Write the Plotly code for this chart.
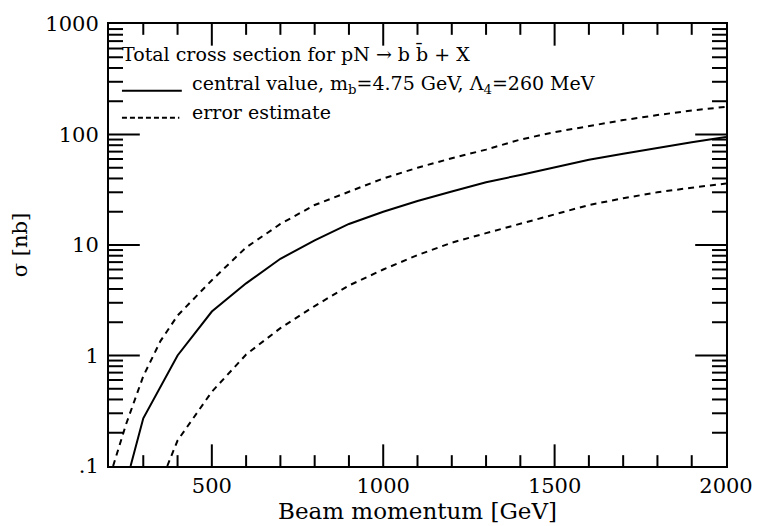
import plotly.graph_objects as go

# Beam momentum [GeV] and cross sections [nb]
central_x = [263, 300, 400, 500, 600, 700, 800, 900, 1000, 1100, 1200, 1300, 1400, 1500, 1600, 1700, 1800, 1900, 2000]
central_y = [0.1, 0.27, 1.0, 2.5, 4.5, 7.5, 11, 15.5, 20, 25, 30.5, 37, 43, 50, 59, 67, 76, 85, 95]

upper_x = [212, 250, 300, 350, 400, 500, 600, 700, 800, 900, 1000, 1100, 1200, 1300, 1400, 1500, 1600, 1700, 1800, 1900, 2000]
upper_y = [0.1, 0.24, 0.65, 1.35, 2.3, 4.8, 9.5, 15.5, 23, 30.5, 40, 50, 61, 73, 90, 105, 120, 135, 150, 165, 178]

lower_x = [370, 400, 500, 600, 700, 800, 900, 1000, 1100, 1200, 1300, 1400, 1500, 1600, 1700, 1800, 1900, 2000]
lower_y = [0.1, 0.17, 0.47, 1.02, 1.77, 2.8, 4.3, 6.0, 8.1, 10.5, 12.8, 15.5, 19, 23, 26.5, 30, 33, 36]

# axis ticks
x_major = [500, 1000, 1500, 2000]
x_minor = [300, 400, 600, 700, 800, 900, 1100, 1200, 1300, 1400, 1600, 1700, 1800, 1900]
y_major = [0.1, 1, 10, 100, 1000]
y_minor = [m * d for d in (0.1, 1, 10, 100) for m in range(2, 10)]
y_label_alias = {"0.1": ".1"}

legend_title = "Total cross section for pN \u2192 b b\u0304 + X"
label_central = "central value, m<sub>b</sub>=4.75 GeV, \u039b<sub>4</sub>=260 MeV"
label_error = "error estimate"

FONT = "DejaVu Serif"
LEG_SIZE = 19
X_RANGE = [200, 2000]
Y_RANGE = [-1, 3]
PLOT_H = 449  # plot-area height in px (for tick lengths)

fig = go.Figure()
fig.add_trace(go.Scatter(x=central_x, y=central_y, mode="lines",
                         line=dict(color="black", width=2), showlegend=False))
fig.add_trace(go.Scatter(x=upper_x, y=upper_y, mode="lines",
                         line=dict(color="black", width=2, dash="6px,5px"), showlegend=False))
fig.add_trace(go.Scatter(x=lower_x, y=lower_y, mode="lines",
                         line=dict(color="black", width=2, dash="6px,5px"), showlegend=False))

y_lo, y_hi = 10 ** Y_RANGE[0], 10 ** Y_RANGE[1]
x_lo, x_hi = X_RANGE


def y_tick_marks(xs, ys, size):
    # horizontal tick marks centred on the frame; the outer half is clipped by the plot area
    fig.add_trace(go.Scatter(x=xs, y=ys, mode="markers", cliponaxis=True, showlegend=False,
                             hoverinfo="skip",
                             marker=dict(symbol="line-ew-open", size=size, color="black",
                                         line=dict(color="black", width=2))))


y_major_in = [v for v in y_major if y_lo < v < y_hi]
for edge in (x_lo, x_hi):
    y_tick_marks([edge] * len(y_major_in), y_major_in, 44)
    y_tick_marks([edge] * len(y_minor), y_minor, 20)

# x ticks on bottom and top frame
for vals, length in ((x_major, 22), (x_minor, 11)):
    frac = length / PLOT_H
    for v in vals:
        if not (x_lo < v < x_hi):
            continue
        for y0, y1 in ((0, frac), (1, 1 - frac)):
            fig.add_shape(type="line", xref="x", yref="y domain", x0=v, x1=v, y0=y0, y1=y1,
                          line=dict(color="black", width=2))

# legend drawn as text + sample lines inside the plot
fig.add_annotation(xref="paper", yref="paper", x=0.018, y=0.933, xanchor="left", yanchor="middle",
                   text=legend_title, showarrow=False, font=dict(family=FONT, size=LEG_SIZE, color="black"))
fig.add_annotation(xref="paper", yref="paper", x=0.131, y=0.863, xanchor="left", yanchor="middle",
                   text=label_central, showarrow=False, font=dict(family=FONT, size=LEG_SIZE, color="black"))
fig.add_annotation(xref="paper", yref="paper", x=0.131, y=0.800, xanchor="left", yanchor="middle",
                   text=label_error, showarrow=False, font=dict(family=FONT, size=LEG_SIZE, color="black"))
fig.add_shape(type="line", xref="paper", yref="paper", x0=0.021, x1=0.118, y0=0.849, y1=0.849,
              line=dict(color="black", width=2))
fig.add_shape(type="line", xref="paper", yref="paper", x0=0.021, x1=0.114, y0=0.788, y1=0.788,
              line=dict(color="black", width=2, dash="5px,3px"))

fig.update_layout(
    xaxis=dict(range=X_RANGE, tickvals=x_major, ticks="", showline=True, linecolor="black",
               linewidth=2, mirror=True, showgrid=False, zeroline=False,
               tickfont=dict(family=FONT, size=21, color="black"),
               title=dict(text="Beam momentum [GeV]", font=dict(family=FONT, size=23, color="black"),
                          standoff=0)),
    yaxis=dict(type="log", range=Y_RANGE, tickvals=y_major, ticks="", labelalias=y_label_alias,
               showline=True, linecolor="black", linewidth=2, mirror=True,
               showgrid=False, zeroline=False, ticklabelstandoff=4,
               tickfont=dict(family=FONT, size=21, color="black"),
               title=dict(text="\u03c3 [nb]", font=dict(family=FONT, size=21, color="black"),
                          standoff=12)),
    width=765, height=526, margin=dict(l=109, r=28, t=18, b=59),
    plot_bgcolor="white", paper_bgcolor="white", showlegend=False,
)

fig.write_html("out.html")
